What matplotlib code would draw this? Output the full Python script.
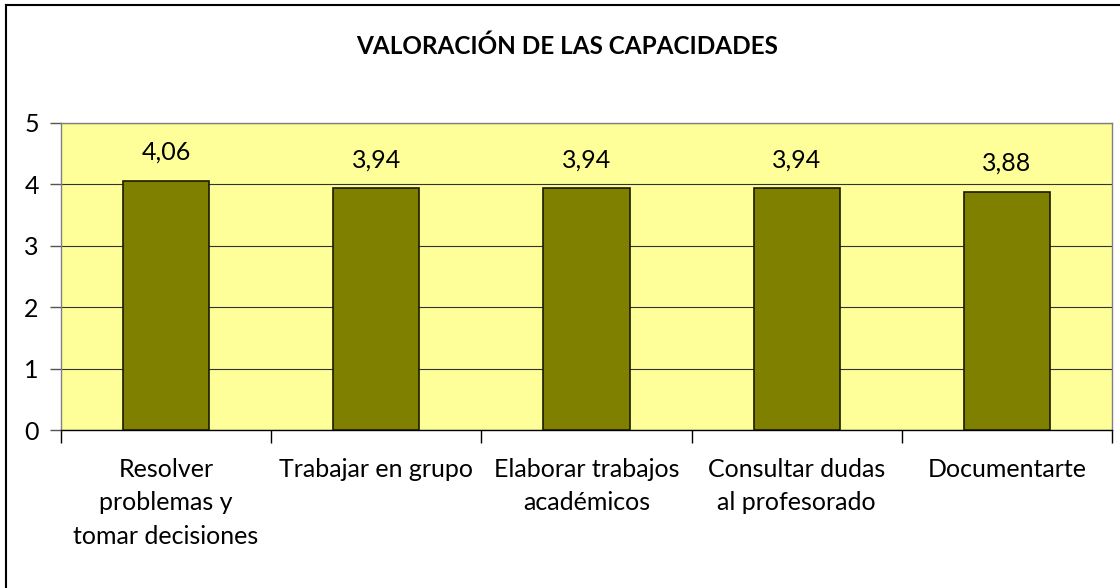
import matplotlib
matplotlib.use("Agg")
import matplotlib.pyplot as plt
from matplotlib.lines import Line2D
import numpy as np

categories = ["Resolver\nproblemas y\ntomar decisiones", "Trabajar en grupo",
              "Elaborar trabajos\nacadémicos", "Consultar dudas\nal profesorado", "Documentarte"]
values = [4.06, 3.94, 3.94, 3.94, 3.88]
value_labels = ["4,06", "3,94", "3,94", "3,94", "3,88"]
title = "VALORACIÓN DE LAS CAPACIDADES"

plt.rcParams['font.family'] = ['Lato', 'DejaVu Sans']

fig = plt.figure(figsize=(11.2, 5.88), dpi=100)
ax = fig.add_axes([61/1120, 1-430/588, (1112-61)/1120, (430-123)/588])
ax.set_facecolor('#FFFF99')

x = np.arange(len(categories))
ax.bar(x, values, width=0.41, color='#808000', edgecolor='#1a1a00', linewidth=1.2, zorder=3)
for xi, v, lab in zip(x, values, value_labels):
    ax.text(xi, v + 0.46, lab, ha='center', va='center', fontsize=18, color='black')

ax.set_xlim(-0.5, len(categories) - 0.5)
ax.set_ylim(0, 5)
ax.set_yticks([0, 1, 2, 3, 4, 5])
ax.tick_params(axis='y', labelsize=18, length=8, width=1, color='#555555', pad=8)
ax.yaxis.grid(True, color='#333333', linewidth=0.8, zorder=0)
ax.set_axisbelow(True)

# category boundaries as major ticks, labels as minor
ax.set_xticks(np.arange(-0.5, len(categories)))
ax.set_xticklabels([])
ax.tick_params(axis='x', which='major', length=9, width=1, color='black', direction='out')
ax.set_xticks(x, minor=True)
ax.set_xticklabels(categories, minor=True, fontsize=18, linespacing=1.55, va='top')
ax.tick_params(axis='x', which='minor', length=0, pad=20)

for side in ['top', 'right', 'left']:
    ax.spines[side].set_color('#808080')
ax.spines['bottom'].set_color('black')
for s in ax.spines.values():
    s.set_linewidth(1)

fig.text(567/1120, 1-46/588, title, ha='center', va='center', fontsize=17.5, fontweight='bold')

# outer chart border (left and top only visible)
fig.add_artist(Line2D([6/1120, 6/1120], [0, 1-5/588], color='black', linewidth=1.5, transform=fig.transFigure))
fig.add_artist(Line2D([6/1120, 1], [1-5/588, 1-5/588], color='black', linewidth=1.5, transform=fig.transFigure))

fig.savefig("out.png", dpi=100, facecolor='white')
